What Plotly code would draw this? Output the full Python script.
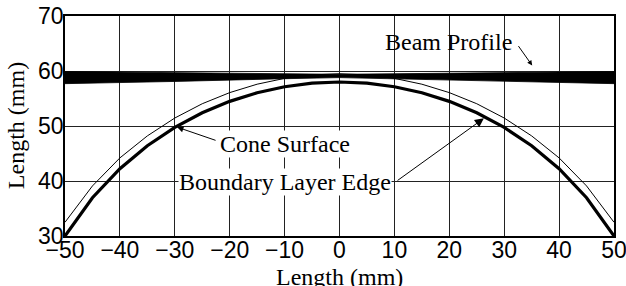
import plotly.graph_objects as go

# Data
x_curve = [-50, -45, -40, -35, -30, -25, -20, -15, -10, -5, 0, 5, 10, 15, 20, 25, 30, 35, 40, 45, 50]
cone_y = [30.0, 36.96, 42.24, 46.41, 49.74, 52.40, 54.48, 56.05, 57.14, 57.79, 58.0,
          57.79, 57.14, 56.05, 54.48, 52.40, 49.74, 46.41, 42.24, 36.96, 30.0]
bl_edge_y = [32.5, 39.1, 44.2, 48.2, 51.45, 54.05, 56.07, 57.6, 58.66, 59.29, 59.5,
             59.29, 58.66, 57.6, 56.07, 54.05, 51.45, 48.2, 44.2, 39.1, 32.5]

beam_x = [-50, -40, -30, -20, -10, 0, 10, 20, 30, 40, 50]
beam_top = [59.9, 59.8, 59.7, 59.6, 59.5, 59.4, 59.5, 59.6, 59.7, 59.8, 59.9]
beam_bottom = [57.7, 57.9, 58.1, 58.3, 58.6, 58.8, 58.6, 58.3, 58.1, 57.9, 57.7]

x_ticks = [-50, -40, -30, -20, -10, 0, 10, 20, 30, 40, 50]
y_ticks = [30, 40, 50, 60, 70]

SERIF = "Liberation Serif"
SANS = "Liberation Sans"
TFONT = dict(family=SERIF, size=24, color="black")

fig = go.Figure()

fig.add_trace(go.Scatter(
    x=beam_x + beam_x[::-1], y=beam_top + beam_bottom[::-1],
    mode="lines", fill="toself", fillcolor="black",
    line=dict(color="black", width=0.8), hoverinfo="skip", showlegend=False))

fig.add_trace(go.Scatter(
    x=x_curve, y=bl_edge_y, mode="lines",
    line=dict(color="black", width=1), showlegend=False))

fig.add_trace(go.Scatter(
    x=x_curve, y=cone_y, mode="lines",
    line=dict(color="black", width=3.2), showlegend=False))

# Text labels
fig.add_annotation(x=19.9, y=65.3, text="Beam Profile", showarrow=False, font=TFONT)
fig.add_annotation(x=-10.0, y=46.8, text="Cone Surface", showarrow=False,
                   bgcolor="white", borderpad=0, font=TFONT)
fig.add_annotation(x=-9.9, y=39.9, text="Boundary Layer Edge", showarrow=False,
                   bgcolor="white", borderpad=0, font=TFONT)

# Arrows
fig.add_annotation(x=35.1, y=61.0, ax=32.4, ay=64.8, axref="x", ayref="y",
                   text="", showarrow=True, arrowhead=2, arrowsize=1.0,
                   arrowwidth=1, arrowcolor="black")
fig.add_annotation(x=-29.6, y=49.8, ax=-22.3, ay=47.3, axref="x", ayref="y",
                   text="", showarrow=True, arrowhead=2, arrowsize=1.3,
                   arrowwidth=1, arrowcolor="black")
fig.add_annotation(x=26.3, y=51.4, ax=10.3, ay=39.9, axref="x", ayref="y",
                   text="", showarrow=True, arrowhead=2, arrowsize=1.8,
                   arrowwidth=1, arrowcolor="black")

# Axis titles
fig.add_annotation(x=0.5, y=-0.186, xref="paper", yref="paper", text="Length (mm)",
                   showarrow=False, xanchor="center", yanchor="middle", font=TFONT)
fig.add_annotation(x=-0.089, y=0.5, xref="paper", yref="paper", text="Length (mm)",
                   textangle=-90, showarrow=False, xanchor="center", yanchor="middle",
                   font=TFONT)

fig.update_xaxes(
    range=[-50, 50], tickvals=x_ticks, ticktext=[str(v).replace("-", "\u2212") for v in x_ticks],
    showgrid=True, gridcolor="#222", gridwidth=1, zeroline=False,
    showline=True, linecolor="black", linewidth=1.5, mirror=True,
    ticks="", ticklabelstandoff=-7, ticklabeloverflow="allow",
    tickfont=dict(family=SANS, size=23, color="black"), automargin=False)
fig.update_yaxes(
    range=[30, 70], tickvals=y_ticks,
    showgrid=True, gridcolor="#222", gridwidth=1, zeroline=False,
    showline=True, linecolor="black", linewidth=1.5, mirror=True,
    ticks="", ticklabelstandoff=-5, ticklabeloverflow="allow",
    tickfont=dict(family=SANS, size=23, color="black"), automargin=False)

fig.update_layout(
    width=626, height=286,
    margin=dict(l=65, r=12, t=16, b=50),
    paper_bgcolor="white", plot_bgcolor="white",
    showlegend=False)

# Remove the default 8px page margin so the figure fills the window.
fig.write_html("out.html", config={"displayModeBar": False},
               post_script="document.body.style.margin='0';")
